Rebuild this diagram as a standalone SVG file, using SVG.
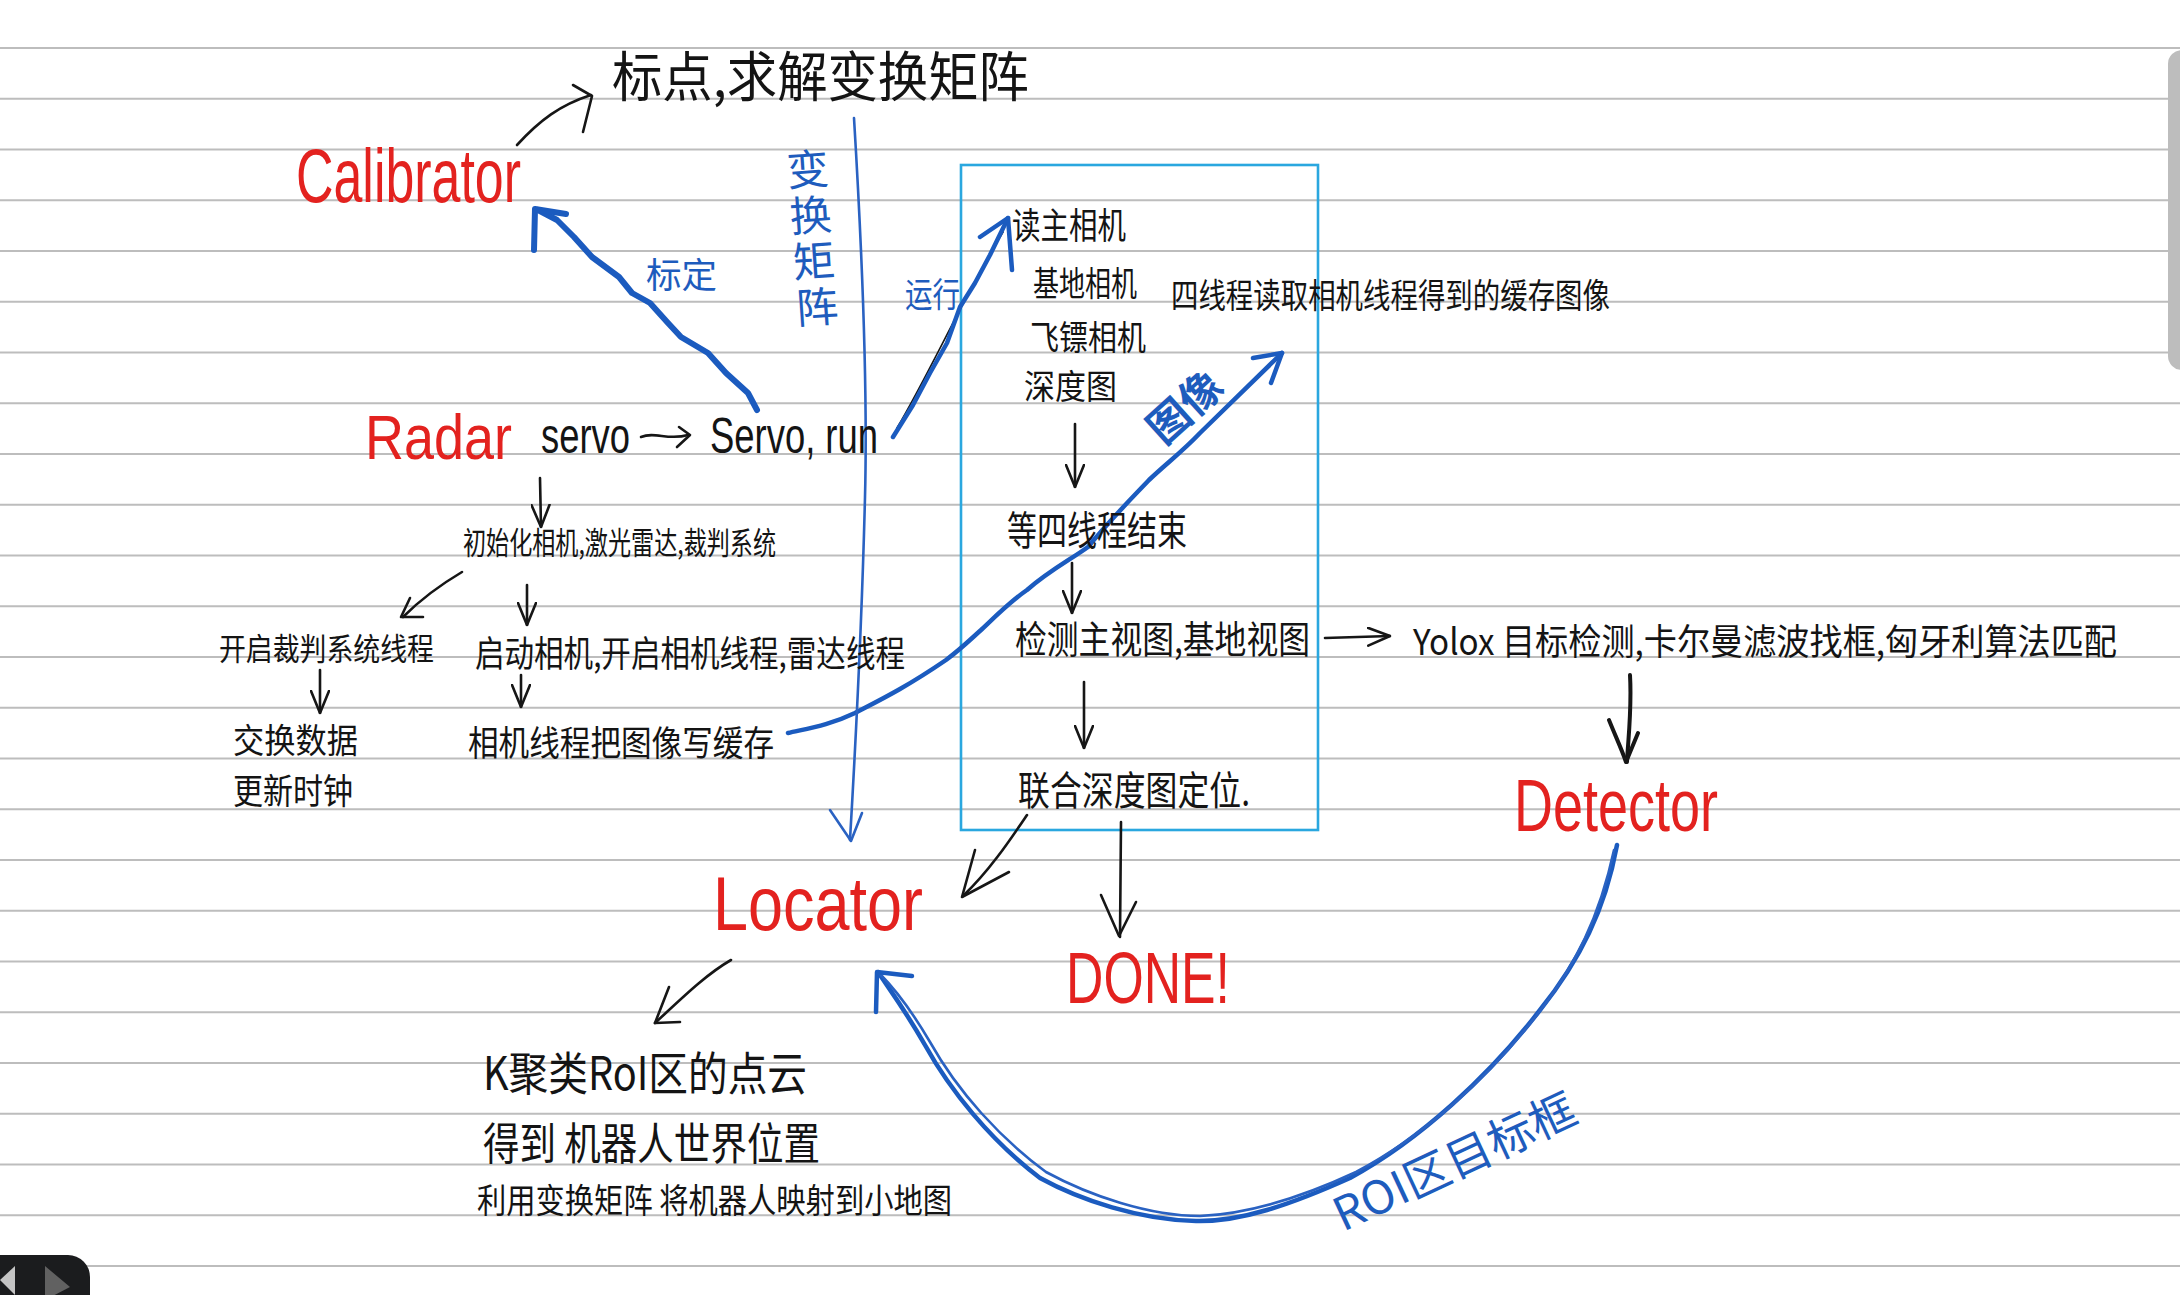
<svg xmlns="http://www.w3.org/2000/svg" width="2180" height="1295" viewBox="0 0 2180 1295">
<defs>
<style>
.rule{stroke:#bdbdbd;stroke-width:2;}
.cn{font-family:"Noto Sans CJK SC","Noto Sans",sans-serif;fill:#141414;}
.en{font-family:"Liberation Sans","DejaVu Sans",sans-serif;fill:#141414;}
.red{font-family:"Liberation Sans","DejaVu Sans",sans-serif;fill:#e3221f;}
.bl{fill:#1e5cbd;}
.bk{fill:none;stroke:#161616;stroke-width:2.6;stroke-linecap:round;stroke-linejoin:round;}
.bt{fill:none;stroke:#1b5bbf;stroke-width:6;stroke-linecap:round;stroke-linejoin:round;}
.bm{fill:none;stroke:#1b5bbf;stroke-width:4.5;stroke-linecap:round;stroke-linejoin:round;}
.bn{fill:none;stroke:#2a62c2;stroke-width:2.6;stroke-linecap:round;stroke-linejoin:round;}
</style>
<marker id="v" viewBox="0 0 24 20" refX="23" refY="10" markerWidth="24" markerHeight="20" markerUnits="userSpaceOnUse" orient="auto">
<path d="M1,1 L23,10 L1,19" fill="none" stroke="#161616" stroke-width="2.6" stroke-linecap="round" stroke-linejoin="round"/>
</marker>
</defs>
<rect width="2180" height="1295" fill="#ffffff"/>
<g id="ruled-lines">
<line class="rule" x1="0" y1="48" x2="2180" y2="48"/>
<line class="rule" x1="0" y1="98.75" x2="2180" y2="98.75"/>
<line class="rule" x1="0" y1="149.5" x2="2180" y2="149.5"/>
<line class="rule" x1="0" y1="200.25" x2="2180" y2="200.25"/>
<line class="rule" x1="0" y1="251" x2="2180" y2="251"/>
<line class="rule" x1="0" y1="301.75" x2="2180" y2="301.75"/>
<line class="rule" x1="0" y1="352.5" x2="2180" y2="352.5"/>
<line class="rule" x1="0" y1="403.25" x2="2180" y2="403.25"/>
<line class="rule" x1="0" y1="454" x2="2180" y2="454"/>
<line class="rule" x1="0" y1="504.75" x2="2180" y2="504.75"/>
<line class="rule" x1="0" y1="555.5" x2="2180" y2="555.5"/>
<line class="rule" x1="0" y1="606.25" x2="2180" y2="606.25"/>
<line class="rule" x1="0" y1="657" x2="2180" y2="657"/>
<line class="rule" x1="0" y1="707.75" x2="2180" y2="707.75"/>
<line class="rule" x1="0" y1="758.5" x2="2180" y2="758.5"/>
<line class="rule" x1="0" y1="809.25" x2="2180" y2="809.25"/>
<line class="rule" x1="0" y1="860" x2="2180" y2="860"/>
<line class="rule" x1="0" y1="910.75" x2="2180" y2="910.75"/>
<line class="rule" x1="0" y1="961.5" x2="2180" y2="961.5"/>
<line class="rule" x1="0" y1="1012.25" x2="2180" y2="1012.25"/>
<line class="rule" x1="0" y1="1063" x2="2180" y2="1063"/>
<line class="rule" x1="0" y1="1113.75" x2="2180" y2="1113.75"/>
<line class="rule" x1="0" y1="1164.5" x2="2180" y2="1164.5"/>
<line class="rule" x1="0" y1="1215.25" x2="2180" y2="1215.25"/>
<line class="rule" x1="0" y1="1266" x2="2180" y2="1266"/>
</g>
<g id="ui">
<rect x="2168" y="50" width="30" height="320" rx="14" fill="#bdbdbd"/>
<rect x="-30" y="1255" width="120" height="70" rx="22" fill="#1b1c1e"/>
<polygon points="15,1266 15,1295 0,1280" fill="#c4c4c4"/>
<polygon points="45,1266 70,1287 45,1300" fill="#616161"/>
</g>
<g id="process-box">
<rect x="961" y="165" width="357" height="665" fill="none" stroke="#2aa7df" stroke-width="2.6"/>
</g>
<g id="connectors">
<path class="bk" d="M517,145 C540,120 560,105 591,95"/>
<path class="bk" d="M573,85 L592,96 L583,132"/>
<path class="bk" d="M641,437 C655,431 668,441 688,435"/>
<path class="bk" d="M679,427 L690,435 L677,447"/>
<path class="bk" d="M540,478 L541,527" marker-end="url(#v)"/>
<path class="bk" d="M462,572 C440,585 420,600 403,617"/>
<path class="bk" d="M410,598 L401,617 L423,617"/>
<path class="bk" d="M527,585 L527,625" marker-end="url(#v)"/>
<path class="bk" d="M320,670 L320,713" marker-end="url(#v)"/>
<path class="bk" d="M521,675 L521,707" marker-end="url(#v)"/>
<path class="bk" d="M1075,424 L1075,487" marker-end="url(#v)"/>
<path class="bk" d="M1072,563 L1072,613" marker-end="url(#v)"/>
<path class="bk" d="M1325,638 L1390,636" marker-end="url(#v)"/>
<path class="bk" d="M1084,682 L1084,748" marker-end="url(#v)"/>
<path class="bk" d="M1027,815 C1010,840 990,870 963,896"/>
<path class="bk" d="M975,850 L962,897 L1009,872"/>
<path class="bk" d="M1121,822 L1120,937"/>
<path class="bk" d="M1101,895 L1119,936 L1136,902"/>
<path class="bk" style="stroke-width:4" d="M1630,675 C1632,710 1628,740 1627,762"/>
<path class="bk" style="stroke-width:4" d="M1609,720 C1615,735 1622,750 1626,762 L1638,733"/>
<path class="bk" d="M731,960 C705,975 680,1000 655,1023"/>
<path class="bk" d="M669,987 L655,1023 L680,1022"/>
<path class="bk" style="stroke-width:1.6" d="M897,428 C930,372 962,300 1003,232"/>
<path class="bt" d="M757,410 L748,393 L726,373 L708,353 L681,337 L668,323 L650,303 L632,293 L619,277 L592,257 L574,237 L557,220 L538,210"/>
<path class="bt" d="M534,250 L535,209 L566,214"/>
<path class="bm" d="M893,437 L913,405 L930,373 L947,343 L960,307 L975,283 L990,255 L1008,218"/>
<path class="bm" d="M980,237 L1008,218 L1012,270"/>
<path class="bm" d="M788,733 C810,728 830,725 855,713 C880,700 905,688 946,660 C962,648 972,638 981,630 C1000,612 1012,600 1027,590 C1050,570 1070,560 1088,547 C1110,520 1130,500 1149,480 C1168,462 1182,452 1200,433 L1282,353"/>
<path class="bm" d="M1253,358 L1282,353 L1271,383"/>
<path class="bm" d="M1617,845 C1605,910 1580,960 1540,1010 C1490,1075 1420,1140 1350,1178 C1290,1205 1240,1222 1196,1221 C1140,1220 1080,1200 1040,1178 C990,1140 950,1090 925,1045 C905,1010 890,990 878,972"/>
<path class="bn" d="M1614,850 C1600,915 1576,966 1536,1016 C1488,1078 1424,1136 1356,1172 C1296,1200 1246,1214 1200,1216 C1150,1216 1090,1196 1046,1172 C1000,1138 958,1092 930,1042 C910,1008 894,988 880,974"/>
<path class="bm" d="M876,1012 L877,972 L912,976"/>
<path class="bn" d="M854,118 C862,250 868,380 865,497 C862,620 857,720 850,840"/>
<path class="bn" d="M830,810 L851,841 L862,813"/>
</g>
<g id="calib-text"><text class="cn" x="612" y="97" font-size="54" textLength="417" lengthAdjust="spacingAndGlyphs">标点,求解变换矩阵</text></g>
<g id="calibrator"><text class="red" x="296" y="202" font-size="76" textLength="225" lengthAdjust="spacingAndGlyphs">Calibrator</text></g>
<g id="radar"><text class="red" x="365" y="459" font-size="63" textLength="147" lengthAdjust="spacingAndGlyphs">Radar</text></g>
<g id="servo"><text class="en" x="541" y="453" font-size="50" textLength="89" lengthAdjust="spacingAndGlyphs">servo</text></g>
<g id="servo-run"><text class="en" x="710" y="453" font-size="50" textLength="168" lengthAdjust="spacingAndGlyphs">Servo, run</text></g>
<g id="label-biaoding"><text class="cn bl" x="646" y="288" font-size="35" textLength="71" lengthAdjust="spacingAndGlyphs">标定</text></g>
<g id="label-yunxing"><text class="cn bl" x="905" y="307" font-size="34" textLength="55" lengthAdjust="spacingAndGlyphs">运行</text></g>
<g id="label-matrix"><text class="cn bl" x="806" y="148" font-size="42" letter-spacing="4" writing-mode="vertical-rl" transform="rotate(-4 806 148)">变换矩阵</text></g>
<g id="init"><text class="cn" x="463" y="554" font-size="31" textLength="313" lengthAdjust="spacingAndGlyphs">初始化相机,激光雷达,裁判系统</text></g>
<g id="referee-thread"><text class="cn" x="219" y="660" font-size="31" textLength="215" lengthAdjust="spacingAndGlyphs">开启裁判系统线程</text></g>
<g id="start-camera"><text class="cn" x="475" y="667" font-size="36" textLength="430" lengthAdjust="spacingAndGlyphs">启动相机,开启相机线程,雷达线程</text></g>
<g id="exchange"><text class="cn" x="233" y="753" font-size="34" textLength="125" lengthAdjust="spacingAndGlyphs">交换数据</text></g>
<g id="clock"><text class="cn" x="233" y="804" font-size="35" textLength="120" lengthAdjust="spacingAndGlyphs">更新时钟</text></g>
<g id="write-cache"><text class="cn" x="468" y="756" font-size="35" textLength="306" lengthAdjust="spacingAndGlyphs">相机线程把图像写缓存</text></g>
<g id="cameras">
<text class="cn" x="1012" y="239" font-size="36" textLength="114" lengthAdjust="spacingAndGlyphs">读主相机</text>
<text class="cn" x="1033" y="296" font-size="34" textLength="104" lengthAdjust="spacingAndGlyphs">基地相机</text>
<text class="cn" x="1030" y="350" font-size="34" textLength="116" lengthAdjust="spacingAndGlyphs">飞镖相机</text>
<text class="cn" x="1024" y="399" font-size="34" textLength="93" lengthAdjust="spacingAndGlyphs">深度图</text>
</g>
<g id="four-threads"><text class="cn" x="1171" y="308" font-size="34" textLength="439" lengthAdjust="spacingAndGlyphs">四线程读取相机线程得到的缓存图像</text></g>
<g id="wait"><text class="cn" x="1007" y="545" font-size="40" textLength="180" lengthAdjust="spacingAndGlyphs">等四线程结束</text></g>
<g id="detect"><text class="cn" x="1015" y="653" font-size="38" textLength="295" lengthAdjust="spacingAndGlyphs">检测主视图,基地视图</text></g>
<g id="yolox"><text class="cn" x="1413" y="655" font-size="36" textLength="704" lengthAdjust="spacingAndGlyphs">Yolox 目标检测,卡尔曼滤波找框,匈牙利算法匹配</text></g>
<g id="depth-locate"><text class="cn" x="1018" y="805" font-size="40" textLength="232" lengthAdjust="spacingAndGlyphs">联合深度图定位.</text></g>
<g id="label-image"><text class="cn bl" x="1185" y="422" font-size="42" font-weight="bold" text-anchor="middle" transform="rotate(-42 1185 407)">图像</text></g>
<g id="locator"><text class="red" x="713" y="930" font-size="76" textLength="210" lengthAdjust="spacingAndGlyphs">Locator</text></g>
<g id="done"><text class="red" x="1066" y="1003" font-size="72" textLength="164" lengthAdjust="spacingAndGlyphs">DONE!</text></g>
<g id="detector"><text class="red" x="1514" y="831" font-size="74" textLength="204" lengthAdjust="spacingAndGlyphs">Detector</text></g>
<g id="label-roi"><text class="cn bl" x="1343" y="1232" font-size="46" textLength="262" lengthAdjust="spacingAndGlyphs" transform="rotate(-25 1343 1232)">ROI区目标框</text></g>
<g id="locator-steps">
<text class="cn" x="483" y="1090" font-size="46" textLength="324" lengthAdjust="spacingAndGlyphs">K聚类RoI区的点云</text>
<text class="cn" x="483" y="1160" font-size="44" textLength="337" lengthAdjust="spacingAndGlyphs">得到 机器人世界位置</text>
<text class="cn" x="477" y="1213" font-size="34" textLength="475" lengthAdjust="spacingAndGlyphs">利用变换矩阵 将机器人映射到小地图</text>
</g>
</svg>
